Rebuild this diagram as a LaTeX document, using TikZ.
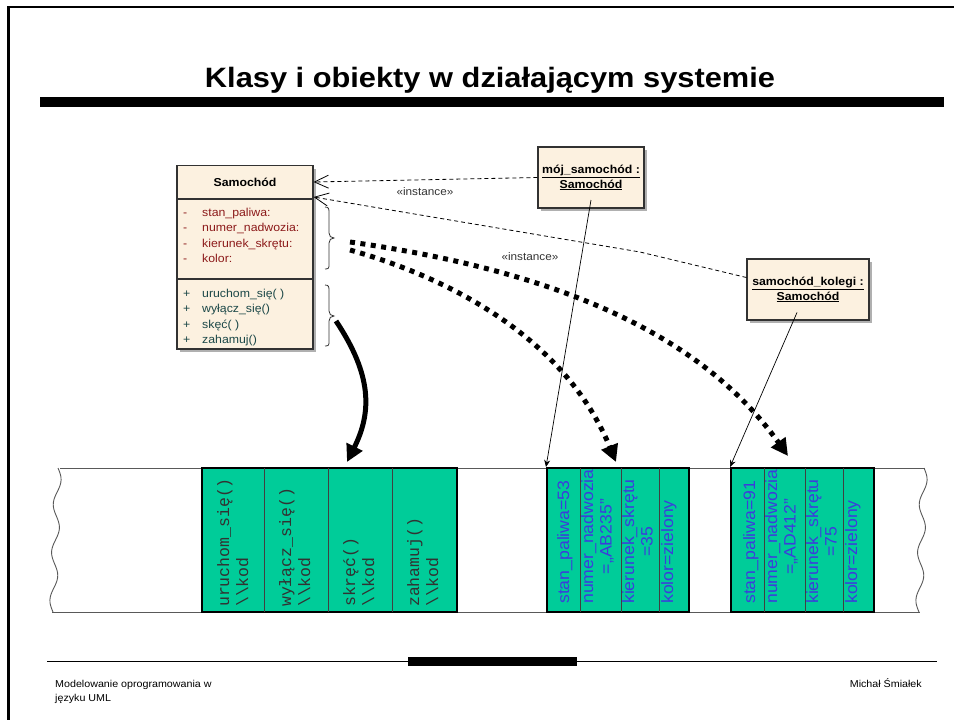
\documentclass[tikz,border=0pt]{standalone}
\usepackage{fontspec}
\setmainfont[FakeStretch=1.07]{Liberation Sans}
\setsansfont[FakeStretch=1.07]{Liberation Sans}
\setmonofont{Liberation Mono}
\newfontfamily\titlefont[FakeStretch=1.1]{Liberation Sans}
\usetikzlibrary{arrows.meta,shadows}

\definecolor{classfill}{RGB}{252,241,224}
\definecolor{shadowgray}{RGB}{176,176,176}
\definecolor{boxline}{RGB}{50,50,50}
\definecolor{attrred}{RGB}{140,26,26}
\definecolor{opteal}{RGB}{28,72,72}
\definecolor{memgreen}{RGB}{0,204,153}
\definecolor{valblue}{RGB}{60,60,220}
\definecolor{codegray}{RGB}{50,50,50}
\definecolor{labelgray}{RGB}{51,51,51}

\begin{document}
\begin{tikzpicture}[x=1pt,y=-1pt,
  classhead/.style={draw=boxline,line width=1.1pt,fill=classfill,minimum width=136pt,
    minimum height=33pt,inner sep=0pt,font=\fontsize{11.5}{13}\selectfont\bfseries},
  classpart/.style={draw=boxline,line width=1.1pt,fill=classfill,minimum width=136pt,inner sep=0pt},
  attrtext/.style={anchor=base west,inner sep=0pt,text=attrred,font=\fontsize{11.5}{13}\selectfont},
  optext/.style={anchor=base west,inner sep=0pt,text=opteal,font=\fontsize{11.5}{13}\selectfont},
  objbox/.style={draw=boxline,line width=1.1pt,fill=classfill,inner sep=0pt,align=center,
    font=\fontsize{11.5}{15}\selectfont\bfseries,
    drop shadow={shadow xshift=3pt,shadow yshift=-3pt,fill=shadowgray,opacity=1}},
  bracket/.style={draw=boxline,line width=0.8pt},
  depline/.style={draw=black,line width=0.8pt,dash pattern=on 4pt off 3pt,
    -{Straight Barb[length=14pt,width=13pt,line width=0.8pt]}},
  stereo/.style={inner sep=0pt,text=labelgray,font=\fontsize{11}{13}\selectfont},
  instline/.style={draw=black,line width=0.7pt,-{Stealth[length=7pt,width=6pt]}},
  flowdots/.style={draw=black,line width=5pt,dash pattern=on 5pt off 5.5pt,
    -{Triangle[length=17pt,width=17pt]}},
  flowbold/.style={draw=black,line width=5pt,-{Triangle[length=17pt,width=17pt]}},
  memblock/.style={draw=black,line width=2pt,fill=memgreen,minimum height=144pt,inner sep=0pt},
  memdiv/.style={draw=black!75,line width=1pt},
  memedge/.style={draw=black!65,line width=0.9pt},
  codetext/.style={rotate=90,anchor=north west,inner sep=0pt,align=left,text=codegray,
    font=\ttfamily\fontsize{16.5}{19}\selectfont},
  valtext/.style={rotate=90,anchor=north west,inner sep=0pt,align=center,text=valblue,
    font=\fontsize{16.5}{18.5}\selectfont},
  foot/.style={inner sep=0pt,font=\fontsize{10}{12}\selectfont}]

\useasboundingbox (0,0) rectangle (954,720);

% page frame
\draw[line width=2.5pt] (8.5,720) -- (8.5,7) -- (954,7);

% title and rule
\node[anchor=base,inner sep=0pt,font=\titlefont\fontsize{28}{32}\selectfont\bfseries] (title) at (490,87)
  {Klasy i obiekty w działającym systemie};
\fill (40,97) rectangle (944,107);

% class Samochód
\fill[shadowgray] (180,168.5) rectangle (316,352);
\node[classhead] (cls) at (245,182) {Samochód};
\node[classpart,minimum height=80pt] (attrs) at (245,239) {};
\node[classpart,minimum height=70pt] (ops) at (245,314) {};

\foreach \t [count=\i] in {stan\_paliwa:,numer\_nadwozia:,kierunek\_skrętu:,kolor:} {
  \node[attrtext] (am\i) at (183,{200.5+15.6*\i}) {-};
  \node[attrtext] (a\i) at (202,{200.5+15.6*\i}) {\t};
}
\foreach \t [count=\i] in {uruchom\_się( ),wyłącz\_się(),skęć( ),zahamuj()} {
  \node[optext] (om\i) at (183,{281.5+15.6*\i}) {+};
  \node[optext] (o\i) at (202,{281.5+15.6*\i}) {\t};
}

% braces grouping attributes and operations
\draw[bracket] (325,207) .. controls (329,207) and (329,209) .. (329,213) -- (329,233)
  .. controls (329,236) and (331,238) .. (334,238)
  .. controls (331,238) and (329,240) .. (329,243) -- (329,264)
  .. controls (329,268) and (329,269) .. (325,269);
\draw[bracket] (325,285) .. controls (329,285) and (329,287) .. (329,291) -- (329,311)
  .. controls (329,314) and (331,316) .. (334,316)
  .. controls (331,316) and (329,318) .. (329,321) -- (329,341)
  .. controls (329,345) and (329,346) .. (325,346);
\coordinate (attrtip) at (334,238);
\coordinate (optip) at (334,316);

% objects
\node[objbox,minimum width=106pt,minimum height=61pt] (obj1) at (591,177.5)
  {\underline{mój\_samochód :}\\\underline{Samochód}};
\node[objbox,minimum width=122pt,minimum height=61pt] (obj2) at (808,289.5)
  {\underline{samochód\_kolegi :}\\\underline{Samochód}};

% instance dependencies
\draw[depline] (obj1.west) -- (cls.east);
\coordinate (bend) at (640,252);
\draw[depline] ([yshift=12pt]obj2.west) -- (bend) -- ([yshift=-15pt]cls.east);
\node[stereo] (inst1) at (425,192) {«instance»};
\node[stereo] (inst2) at (530,257) {«instance»};

% memory strip
\draw[memedge] (60,468) -- (925,468);
\draw[memedge] (52,612) -- (920,612);
\draw[memedge] plot[domain=0:1,samples=60] ({58-5*\x+3.5*sin(\x*3*360)},{468+144*\x});
\draw[memedge] plot[domain=0:1,samples=60] ({924-5*\x+3.5*sin(\x*3*360)},{468+144*\x});

% code of the operations
\node[memblock,minimum width=255pt] (code) at (329.5,540) {};
\foreach \dx in {62,126,190} \draw[memdiv] (202+\dx,468) -- (202+\dx,612);
\node[codetext] (c1) at (217,607) {uruchom\_się()\\\textbackslash\textbackslash kod};
\node[codetext] (c2) at (279,607) {wyłącz\_się()\\\textbackslash\textbackslash kod};
\node[codetext] (c3) at (343,607) {skręć()\\\textbackslash\textbackslash kod};
\node[codetext] (c4) at (407,607) {zahamuj()\\\textbackslash\textbackslash kod};

% attribute values of mój_samochód
\node[memblock,minimum width=142pt] (blk1) at (618,540) {};
\foreach \dx in {33,74,112} \draw[memdiv] (547+\dx,468) -- (547+\dx,612);
\node[valtext] (v11) at (557,604) {stan\_paliwa=53};
\node[valtext] (v12) at (581,604) {numer\_nadwozia\\=„AB235”};
\node[valtext] (v13) at (622,604) {kierunek\_skrętu\\=35};
\node[valtext] (v14) at (661,604) {kolor=zielony};

% attribute values of samochód_kolegi
\node[memblock,minimum width=143pt] (blk2) at (802.5,540) {};
\foreach \dx in {33,74,112} \draw[memdiv] (731+\dx,468) -- (731+\dx,612);
\node[valtext] (v21) at (743,604) {stan\_paliwa=91};
\node[valtext] (v22) at (765,604) {numer\_nadwozia\\=„AD412”};
\node[valtext] (v23) at (806,604) {kierunek\_skrętu\\=75};
\node[valtext] (v24) at (845,604) {kolor=zielony};

% objects located in memory
\draw[instline] ([yshift=-22.5pt]obj1.center) -- (blk1.north west);
\draw[instline] ([xshift=-11pt,yshift=-23pt]obj2.center) -- (blk2.north west);

% attributes and operations mapped to memory
\coordinate (d1s) at (350,242);
\coordinate (d2s) at (350,250);
\coordinate (d1e) at (788,456);
\coordinate (d2e) at (616,462);
\draw[flowdots] (d1s) .. controls (520,266) and (690,318) .. (d1e);
\draw[flowdots] (d2s) .. controls (450,278) and (565,338) .. (d2e);
\coordinate (bs) at (336,321);
\coordinate (be) at (347,462);
\draw[flowbold] (bs) .. controls (372,375) and (372,412) .. (be);

% footer
\draw[line width=1pt] (47,661) -- (937,661);
\fill (408,657) rectangle (577,665.5);
\node[foot,anchor=base west] (f1) at (55,687) {Modelowanie oprogramowania w};
\node[foot,anchor=base west] (f2) at (55,701) {języku UML};
\node[foot,anchor=base east] (f3) at (922,687) {Michał Śmiałek};
\end{tikzpicture}
\end{document}
